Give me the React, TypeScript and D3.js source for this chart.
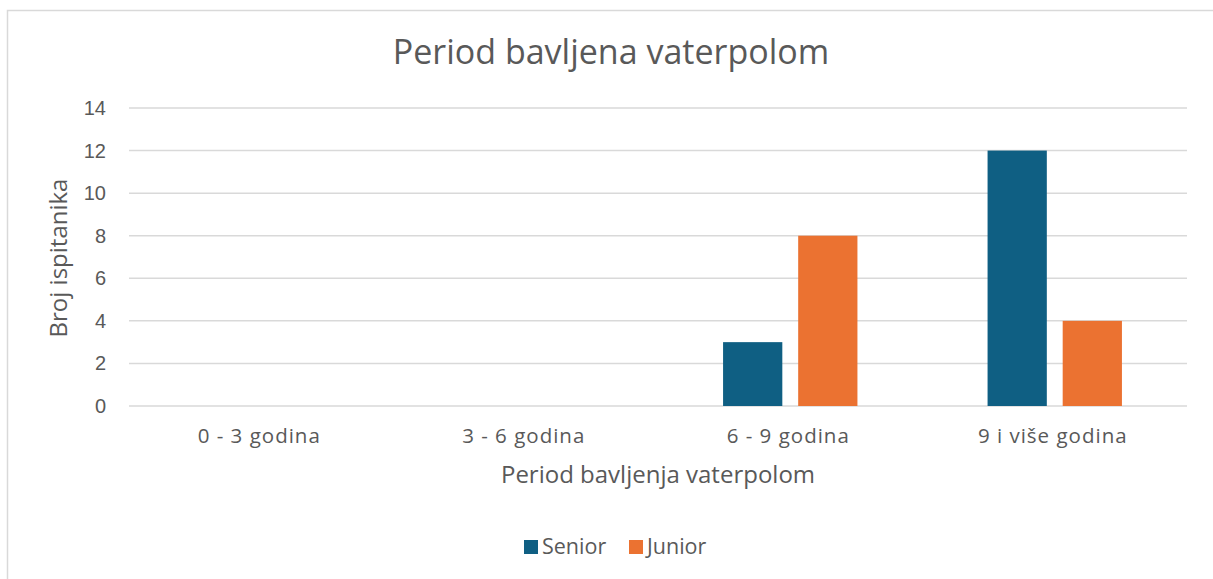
import React from "react";
import * as d3 from "d3";

const categories = ["0 - 3 godina", "3 - 6 godina", "6 - 9 godina", "9 i više godina"];
const seriesNames = ["Senior", "Junior"];
const seniorValues = [0, 0, 3, 12];
const juniorValues = [0, 0, 8, 4];
const yTicks = [0, 2, 4, 6, 8, 10, 12, 14];
const colors = ["#0F5F83", "#EB7231"];

const W = 1213, H = 579;
const FONT = "'Open Sans', 'Liberation Sans', Arial, sans-serif";
const NUMFONT = "'Liberation Sans', Arial, sans-serif";

export default function App() {
  const left = 129, right = 1187, top = 108, bottom = 406;
  const x = d3.scaleBand<string>().domain(categories).range([left, right]);
  const y = d3.scaleLinear().domain([0, 14]).range([bottom, top]);
  const bw = x.bandwidth() * 0.224;
  const gap = x.bandwidth() * 0.06;
  const series = [seniorValues, juniorValues];

  return (
    <svg width={W} height={H} style={{ position: "absolute", left: 0, top: 0, background: "#fff" }} fontFamily={FONT}>
      <rect x={7.5} y={10.5} width={W + 10} height={H + 10} fill="#fff" stroke="#D9D9D9" strokeWidth={1.5} />
      <text x={611} y={64} textAnchor="middle" fontSize={34} fill="#595959">Period bavljena vaterpolom</text>
      {yTicks.map((t) => (
        <g key={t}>
          <line x1={left} x2={right} y1={y(t)} y2={y(t)} stroke="#D9D9D9" strokeWidth={1.5} />
          <text x={106} y={y(t)} dy="0.35em" textAnchor="end" fontSize={20} fontFamily={NUMFONT} fill="#595959">{t}</text>
        </g>
      ))}
      {categories.map((c, i) => {
        const cx = (x(c) as number) + x.bandwidth() / 2;
        return (
          <g key={c}>
            {series.map((vals, s) => {
              const bx = s === 0 ? cx - gap / 2 - bw : cx + gap / 2;
              return vals[i] > 0 ? (
                <rect key={s} x={bx} y={y(vals[i])} width={bw} height={y(0) - y(vals[i])} fill={colors[s]} />
              ) : null;
            })}
            <text x={cx - 2} y={443} textAnchor="middle" fontSize={20.5} letterSpacing={1} fill="#595959">{c}</text>
          </g>
        );
      })}
      <text x={658} y={483} textAnchor="middle" fontSize={24} fill="#595959">Period bavljenja vaterpolom</text>
      <text transform={`translate(67,${(top + bottom) / 2 + 1}) rotate(-90)`} textAnchor="middle" fontSize={24} fill="#595959">Broj ispitanika</text>
      {seriesNames.map((n, i) => {
        const lx = i === 0 ? 524 : 629;
        return (
          <g key={n}>
            <rect x={lx} y={540} width={14} height={14} fill={colors[i]} />
            <text x={lx + 18} y={554} fontSize={21.5} fill="#595959">{n}</text>
          </g>
        );
      })}
    </svg>
  );
}
